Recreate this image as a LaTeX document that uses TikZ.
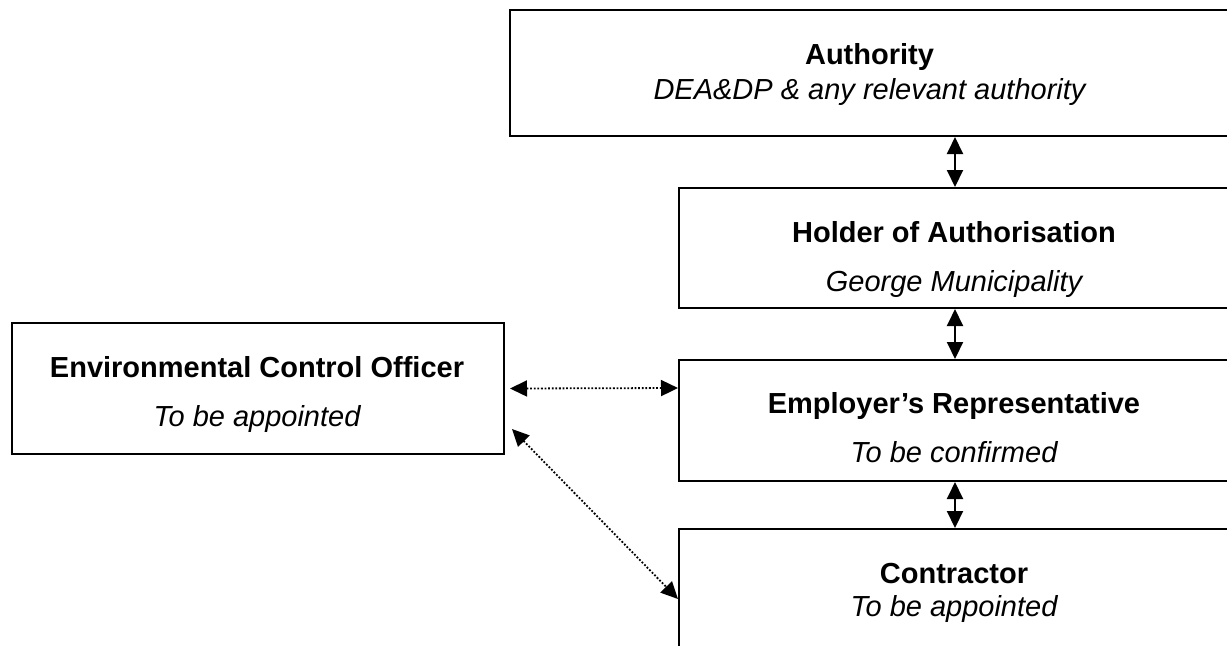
\documentclass[tikz,border=0pt]{standalone}
\usepackage{fontspec}
\setmainfont{Liberation Sans}
\usetikzlibrary{arrows.meta}

\begin{document}
\begin{tikzpicture}[x=0.5pt,y=-0.5pt,>={Triangle[length=8.5pt,width=8pt]},line join=miter,
  box/.style={draw,line width=1pt,inner sep=0pt,anchor=north west},
  head/.style={anchor=base,inner sep=0pt,font=\fontsize{14.5}{17}\selectfont\bfseries},
  note/.style={anchor=base,inner sep=0pt,font=\fontsize{14.5}{17}\selectfont\itshape},
  link/.style={<->,line width=1pt},
  dotlink/.style={<->,line width=0.9pt,dash pattern=on 0.9pt off 0.9pt}]
\useasboundingbox (0,0) rectangle (1227,645);
\clip (0,0) rectangle (1227,645);
% boxes
\node[box,minimum width=360.5pt,minimum height=63pt] (auth) at (509,9) {};
\node[box,minimum width=276pt,minimum height=60pt] (hold) at (678,187) {};
\node[box,minimum width=276pt,minimum height=60.5pt] (emp) at (678,359) {};
\node[box,minimum width=276pt,minimum height=70pt] (cont) at (678,528) {};
\node[box,minimum width=246pt,minimum height=65.5pt] (eco) at (11,322) {};
% texts
\node[head] (authH) at (869.5,64) {Authority};
\node[note] (authN) at (869.5,99) {DEA\&DP \& any relevant authority};
\node[head] (holdH) at (954,242) {Holder of Authorisation};
\node[note] (holdN) at (954,291) {George Municipality};
\node[head] (empH) at (954,413) {Employer’s Representative};
\node[note] (empN) at (954,462) {To be confirmed};
\node[head] (contH) at (954,583) {Contractor};
\node[note] (contN) at (954,616) {To be appointed};
\node[head] (ecoH) at (257,377) {Environmental Control Officer};
\node[note] (ecoN) at (257,426) {To be appointed};
% links
\draw[link] (auth.south -| hold.north) -- (hold.north);
\draw[link] (hold.south) -- (emp.north);
\draw[link] (emp.south) -- (cont.north);
\draw[dotlink] ([xshift=2.5pt]eco.east) -- ([yshift=-14.5pt]emp.north west);
\draw[dotlink] ([xshift=3.5pt,yshift=-20.25pt]eco.east) -- ([yshift=-35.5pt]cont.north west);
\end{tikzpicture}
\end{document}
